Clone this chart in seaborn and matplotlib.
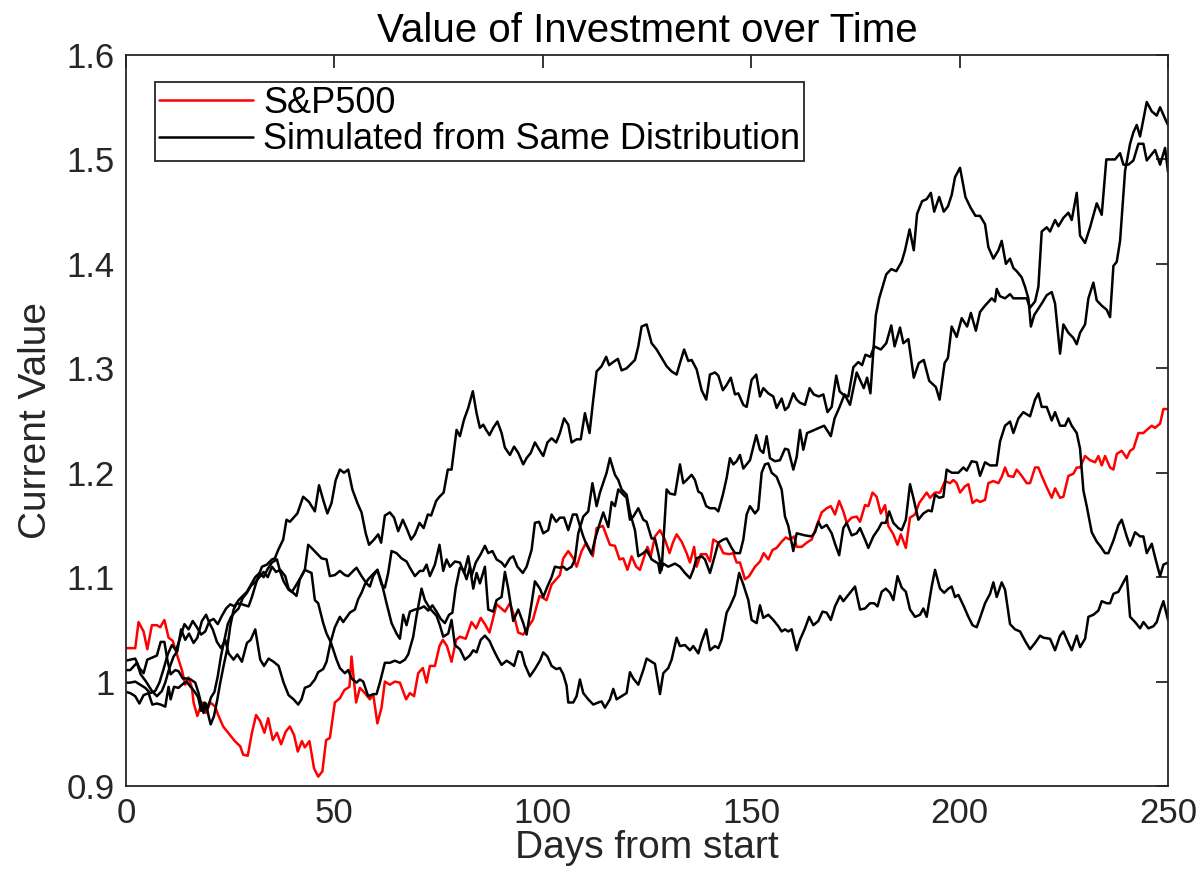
import matplotlib
matplotlib.use("Agg")
import matplotlib.pyplot as plt
import seaborn as sns
import pandas as pd
from matplotlib.lines import Line2D

# ---------------- data ----------------
sp500_days = [0, 1, 2.2, 3.0, 4.2, 5.1, 6.2, 7.4, 8.2, 9.2, 10.2, 11.2, 12.2, 13.4, 14.2, 15.0, 15.8, 16.2, 17.1, 18.2,
              19.2, 20.2, 21.4, 22.1, 23.3, 24.9, 26.1, 27.4, 28.1, 29.2, 30.2, 31.2, 32.2, 33.2, 34.1, 35.2, 36.2, 37.2,
              38.3, 39.3, 40.3, 41.2, 42.2, 42.9, 44.0, 45.1, 46.1, 47.1, 48.0, 48.9, 50.1, 51.3, 52.4, 53.6, 54.1, 55.2,
              56.1, 57.3, 58.5, 59.3, 60.3, 61.3, 62.1, 63.3, 64.5, 65.7, 67.2, 68.1, 69.1, 70.1, 71.2, 72.1, 72.9, 74.1,
              75.2, 76.0, 77.0, 78.1, 79.2, 80.1, 81.5, 82.9, 84.0, 85.1, 86.1, 87.2, 88.9, 90.9, 92.1, 93.1, 94.1, 95.3,
              96.1, 97.6, 99.2, 100.9, 102.1, 104.1, 104.9, 106.1, 107.3, 108.1, 109.3, 110.4, 112.0, 112.9, 114.4,
              116.1, 117.3, 118.4, 119.3, 120.3, 121.3, 122.4, 123.3, 124.1, 125.1, 125.9, 126.9, 128.1, 129.3, 130.4,
              131.2, 132.1, 133.3, 134.5, 135.3, 136.3, 136.9, 137.9, 139.2, 140.1, 140.9, 142.1, 143.3, 144.7, 145.7,
              146.5, 147.3, 148.5, 149.5, 150.9, 152.1, 153.0, 154.1, 155.1, 156.1, 157.3, 158.3, 159.3, 160.3, 160.9,
              162.1, 163.3, 164.5, 165.7, 166.9, 168.1, 169.1, 170.1, 171.1, 172.1, 172.9, 174.1, 175.3, 176.1, 177.3,
              178.1, 179.1, 180.1, 181.1, 182.1, 182.9, 184.1, 185.1, 185.9, 187.1, 188.1, 189.3, 190.3, 192.1, 192.9,
              194.1, 195.3, 196.5, 197.7, 198.5, 199.3, 200.1, 201.3, 202.1, 203.1, 204.1, 204.9, 206.1, 206.9, 208.1,
              209.3, 210.1, 210.9, 211.7, 212.9, 213.7, 214.9, 216.1, 216.9, 218.1, 218.9, 219.7, 220.9, 222.1, 222.9,
              224.1, 224.9, 226.1, 227.3, 228.1, 228.9, 230.1, 231.3, 232.5, 233.3, 234.1, 234.9, 236.1, 236.9, 237.7,
              238.9, 240.1, 240.9, 241.7, 242.9, 244.1, 244.9, 246.1, 246.9, 248.1, 248.9, 250]
sp500_vals = [1.032, 1.032, 1.032, 1.057, 1.048, 1.031, 1.054, 1.054, 1.052, 1.059, 1.042, 1.039, 1.026, 1.011, 0.997,
              1.004, 0.994, 0.980, 0.967, 0.980, 0.970, 0.980, 0.976, 0.968, 0.957, 0.949, 0.943, 0.938, 0.930, 0.929,
              0.951, 0.968, 0.962, 0.951, 0.965, 0.944, 0.951, 0.940, 0.952, 0.957, 0.949, 0.933, 0.943, 0.937, 0.943,
              0.917, 0.909, 0.914, 0.944, 0.946, 0.980, 0.984, 0.992, 0.995, 1.024, 0.980, 0.994, 0.989, 0.983, 0.988,
              0.960, 0.975, 1.000, 0.997, 1.000, 0.999, 0.983, 0.989, 0.986, 1.008, 1.013, 0.999, 1.015, 1.015, 1.034,
              1.040, 1.034, 1.019, 1.040, 1.043, 1.041, 1.057, 1.051, 1.061, 1.055, 1.047, 1.074, 1.067, 1.075, 1.063,
              1.047, 1.045, 1.050, 1.059, 1.082, 1.078, 1.093, 1.102, 1.118, 1.125, 1.118, 1.110, 1.125, 1.133, 1.120,
              1.147, 1.149, 1.131, 1.130, 1.117, 1.118, 1.107, 1.120, 1.110, 1.107, 1.117, 1.129, 1.120, 1.139, 1.145,
              1.136, 1.123, 1.133, 1.141, 1.134, 1.123, 1.114, 1.129, 1.110, 1.122, 1.122, 1.115, 1.136, 1.133, 1.123,
              1.122, 1.123, 1.114, 1.114, 1.098, 1.101, 1.110, 1.115, 1.123, 1.117, 1.126, 1.128, 1.134, 1.138, 1.136,
              1.139, 1.129, 1.129, 1.133, 1.136, 1.149, 1.162, 1.166, 1.168, 1.160, 1.173, 1.163, 1.152, 1.157, 1.158,
              1.153, 1.169, 1.168, 1.181, 1.177, 1.161, 1.169, 1.149, 1.141, 1.131, 1.141, 1.128, 1.157, 1.160, 1.171,
              1.181, 1.176, 1.181, 1.181, 1.192, 1.190, 1.193, 1.190, 1.181, 1.187, 1.189, 1.171, 1.174, 1.172, 1.174,
              1.190, 1.192, 1.190, 1.196, 1.205, 1.197, 1.196, 1.203, 1.197, 1.190, 1.190, 1.205, 1.205, 1.197, 1.186,
              1.176, 1.185, 1.176, 1.177, 1.197, 1.199, 1.205, 1.205, 1.216, 1.212, 1.210, 1.216, 1.207, 1.216, 1.205,
              1.203, 1.218, 1.221, 1.214, 1.221, 1.223, 1.238, 1.238, 1.241, 1.245, 1.243, 1.247, 1.261, 1.261]

sim1_days = [0, 1.0, 2.2, 3.2, 4.2, 5.1, 6.3, 7.4, 8.3, 9.2, 9.9, 10.7, 11.8, 12.6, 13.6, 14.6, 15.5, 16.6, 17.4, 18.2,
             18.6, 19.2, 19.8, 20.3, 21.1, 21.9, 22.6, 23.4, 24.2, 25.0, 25.8, 26.6, 27.8, 29.4, 30.2, 31.4, 32.6, 33.8,
             35.0, 35.7, 36.5, 37.7, 38.5, 39.3, 41.1, 42.5, 43.9, 45.3, 46.3, 47.3, 48.3, 49.3, 50.3, 51.3, 52.3, 53.3,
             54.3, 55.5, 56.5, 57.5, 58.3, 59.5, 60.5, 61.2, 62.1, 63.3, 64.3, 65.3, 66.4, 67.4, 68.4, 69.3, 70.4, 71.4,
             72.4, 73.2, 74.4, 75.2, 76.2, 77.2, 78.1, 79.3, 80.1, 81.1, 82.1, 83.2, 84.1, 84.9, 85.7, 86.4, 87.2, 88.1,
             89.1, 90.1, 90.9, 92.1, 93.1, 94.1, 95.3, 96.1, 97.1, 98.1, 99.3, 100.1, 101.1, 102.1, 103.2, 104.1, 105.1,
             106.1, 106.9, 108.1, 109.1, 110.1, 111.2, 112.1, 112.9, 114.1, 115.2, 115.9, 116.9, 118.0, 118.9, 120.1,
             122.1, 122.9, 123.7, 124.9, 126.1, 127.3, 128.5, 129.7, 130.9, 132.1, 132.9, 133.9, 134.9, 135.7, 136.9,
             138.1, 139.2, 140.1, 141.3, 142.1, 143.2, 144.1, 145.1, 146.1, 146.9, 148.1, 148.9, 150.1, 151.2, 152.1,
             152.9, 154.1, 155.3, 156.1, 157.3, 158.1, 158.9, 160.1, 160.9, 161.7, 162.9, 164.0, 165.0, 166.2, 167.3,
             168.3, 169.3, 170.4, 171.2, 172.0, 173.3, 174.5, 175.7, 176.6, 177.4, 178.6, 179.5, 181.1, 182.4, 183.6,
             184.4, 185.7, 186.5, 187.7, 189.0, 190.2, 191.4, 192.7, 194.3, 195.2, 196.4, 197.2, 198.1, 199.3, 200.5,
             201.8, 202.7, 203.9, 204.9, 206.1, 207.7, 208.5, 208.9, 209.7, 210.9, 212.1, 212.9, 214.5, 216.1, 216.9,
             218.1, 218.9, 219.7, 220.9, 221.7, 222.9, 223.7, 224.9, 226.1, 226.9, 228.1, 228.9, 230.1, 231.3, 232.9,
             234.1, 235.2, 237.3, 238.5, 239.3, 240.5, 241.7, 242.9, 244.1, 244.9, 246.9, 248.1, 249.3, 250]
sim1_vals = [1.020, 1.021, 1.022, 1.013, 1.008, 1.021, 1.023, 1.025, 1.038, 1.038, 1.021, 1.007, 1.011, 1.010, 1.003,
             1.003, 1.002, 0.999, 0.989, 0.976, 0.970, 0.979, 0.967, 0.959, 0.967, 0.983, 0.999, 1.015, 1.030, 1.053,
             1.069, 1.075, 1.074, 1.072, 1.081, 1.097, 1.110, 1.112, 1.117, 1.118, 1.126, 1.136, 1.155, 1.153, 1.161,
             1.177, 1.172, 1.163, 1.188, 1.174, 1.161, 1.171, 1.193, 1.203, 1.200, 1.203, 1.184, 1.171, 1.162, 1.142,
             1.131, 1.136, 1.141, 1.133, 1.159, 1.162, 1.157, 1.144, 1.155, 1.146, 1.136, 1.141, 1.152, 1.147, 1.160,
             1.159, 1.173, 1.177, 1.181, 1.203, 1.203, 1.241, 1.235, 1.251, 1.262, 1.278, 1.257, 1.243, 1.246, 1.241,
             1.236, 1.243, 1.249, 1.238, 1.224, 1.217, 1.225, 1.219, 1.208, 1.214, 1.219, 1.229, 1.221, 1.216, 1.229,
             1.233, 1.229, 1.238, 1.252, 1.246, 1.229, 1.232, 1.232, 1.257, 1.238, 1.270, 1.297, 1.302, 1.311, 1.303,
             1.306, 1.309, 1.298, 1.300, 1.308, 1.321, 1.340, 1.342, 1.324, 1.318, 1.310, 1.302, 1.297, 1.294, 1.305,
             1.318, 1.307, 1.308, 1.299, 1.279, 1.270, 1.294, 1.296, 1.293, 1.279, 1.284, 1.291, 1.275, 1.276, 1.265,
             1.263, 1.289, 1.294, 1.273, 1.281, 1.276, 1.273, 1.262, 1.271, 1.260, 1.263, 1.276, 1.270, 1.267, 1.265,
             1.281, 1.275, 1.273, 1.275, 1.258, 1.263, 1.293, 1.278, 1.275, 1.273, 1.301, 1.306, 1.303, 1.313, 1.311,
             1.321, 1.318, 1.324, 1.341, 1.321, 1.339, 1.324, 1.328, 1.291, 1.305, 1.308, 1.288, 1.282, 1.270, 1.305,
             1.310, 1.340, 1.330, 1.348, 1.340, 1.353, 1.336, 1.354, 1.360, 1.367, 1.364, 1.376, 1.369, 1.367, 1.371,
             1.367, 1.367, 1.367, 1.358, 1.364, 1.378, 1.431, 1.435, 1.431, 1.442, 1.436, 1.444, 1.449, 1.442, 1.468,
             1.427, 1.420, 1.435, 1.458, 1.447, 1.500, 1.500, 1.506, 1.495, 1.495, 1.499, 1.515, 1.515, 1.499, 1.509,
             1.495, 1.511, 1.488]

sim2_days = [0, 1, 2.2, 3.4, 4.6, 5.8, 7.0, 8.0, 9.0, 10.0, 11.0, 12.0, 13.0, 14.0, 15.0, 16.0, 17.0, 18.0, 19.0, 20.0,
             21.0, 22.0, 23.0, 24.0, 25.0, 26.0, 27.0, 28.0, 29.0, 30.0, 31.0, 32.0, 33.0, 34.0, 35.0, 36.2, 37.0, 37.8,
             39.0, 40.1, 40.9, 41.7, 42.9, 43.7, 44.5, 45.7, 46.9, 48.1, 48.9, 50.1, 51.3, 52.5, 53.3, 54.5, 55.3, 56.5,
             57.7, 58.5, 59.3, 60.3, 61.3, 62.1, 62.9, 63.7, 64.9, 66.1, 67.3, 68.1, 69.3, 70.5, 71.3, 72.1, 72.9, 74.1,
             75.2, 76.1, 76.9, 77.7, 78.9, 80.1, 81.1, 82.1, 82.9, 83.9, 85.1, 86.1, 86.9, 87.9, 88.9, 90.1, 90.9, 92.1,
             92.9, 93.9, 95.2, 96.1, 97.3, 98.1, 99.1, 100.1, 101.3, 102.1, 103.2, 104.1, 105.1, 106.1, 107.2, 108.1,
             108.9, 109.7, 110.5, 111.7, 112.5, 113.7, 114.5, 115.7, 116.5, 117.3, 118.1, 119.3, 120.1, 120.9, 121.7,
             122.9, 124.1, 124.9, 126.1, 126.9, 127.7, 128.5, 129.7, 130.5, 131.7, 132.9, 133.7, 134.5, 135.7, 136.5,
             137.3, 138.1, 139.2, 140.1, 141.3, 142.1, 143.2, 144.1, 144.9, 145.7, 146.5, 147.3, 148.1, 148.9, 149.7,
             151.2, 152.1, 152.9, 153.7, 154.5, 155.7, 156.9, 158.1, 158.9, 160.1, 160.9, 161.7, 162.5, 163.4, 164.6,
             166.3, 167.5, 169.1, 170.0, 171.2, 172.4, 173.7, 175.3, 177.0, 177.8, 178.6, 179.9, 180.7, 182.4, 183.6,
             184.8, 186.1, 186.9, 188.0, 189.0, 189.8, 191.0, 192.1, 193.1, 193.9, 195.1, 196.2, 197.2, 198.1, 198.9,
             200.1, 201.4, 202.6, 203.8, 204.9, 206.1, 206.9, 208.1, 209.3, 210.1, 211.1, 212.1, 212.9, 213.7, 214.9,
             215.7, 216.5, 217.1, 217.9, 219.7, 220.9, 222.1, 222.9, 224.1, 224.9, 226.1, 227.3, 228.1, 228.9, 230.1,
             230.9, 232.1, 232.9, 234.1, 235.3, 236.1, 236.9, 237.7, 238.5, 239.7, 240.9, 241.7, 242.5, 243.3, 244.9,
             246.1, 247.3, 248.1, 249.3, 250]
sim2_vals = [0.999, 0.999, 1.000, 0.997, 0.994, 0.989, 0.991, 0.999, 1.012, 1.026, 1.035, 1.030, 1.042, 1.055, 1.050,
             1.058, 1.052, 1.045, 1.048, 1.058, 1.060, 1.055, 1.063, 1.070, 1.074, 1.072, 1.078, 1.082, 1.086, 1.093,
             1.100, 1.104, 1.100, 1.108, 1.114, 1.117, 1.105, 1.096, 1.088, 1.085, 1.082, 1.098, 1.107, 1.131, 1.128,
             1.123, 1.118, 1.117, 1.101, 1.102, 1.106, 1.102, 1.101, 1.106, 1.109, 1.101, 1.094, 1.091, 1.101, 1.107,
             1.093, 1.090, 1.104, 1.125, 1.123, 1.118, 1.115, 1.109, 1.101, 1.106, 1.106, 1.112, 1.101, 1.112, 1.131,
             1.106, 1.117, 1.110, 1.115, 1.114, 1.104, 1.120, 1.101, 1.114, 1.122, 1.130, 1.123, 1.125, 1.117, 1.114,
             1.110, 1.118, 1.120, 1.110, 1.104, 1.110, 1.126, 1.152, 1.153, 1.142, 1.145, 1.160, 1.153, 1.157, 1.157,
             1.145, 1.160, 1.160, 1.149, 1.139, 1.131, 1.122, 1.136, 1.152, 1.162, 1.148, 1.172, 1.168, 1.184, 1.179,
             1.176, 1.155, 1.158, 1.166, 1.155, 1.153, 1.137, 1.137, 1.123, 1.107, 1.184, 1.180, 1.179, 1.208, 1.190,
             1.193, 1.198, 1.193, 1.182, 1.180, 1.168, 1.166, 1.166, 1.163, 1.179, 1.195, 1.214, 1.208, 1.211, 1.217,
             1.204, 1.208, 1.212, 1.236, 1.222, 1.219, 1.235, 1.214, 1.211, 1.212, 1.223, 1.222, 1.203, 1.215, 1.241,
             1.222, 1.238, 1.240, 1.243, 1.245, 1.235, 1.252, 1.263, 1.275, 1.265, 1.296, 1.281, 1.291, 1.276, 1.351,
             1.367, 1.390, 1.395, 1.393, 1.402, 1.413, 1.433, 1.413, 1.448, 1.460, 1.462, 1.468, 1.450, 1.464, 1.450,
             1.455, 1.466, 1.483, 1.492, 1.464, 1.454, 1.446, 1.446, 1.438, 1.416, 1.405, 1.413, 1.422, 1.400, 1.405,
             1.396, 1.393, 1.387, 1.378, 1.367, 1.340, 1.351, 1.362, 1.370, 1.373, 1.362, 1.314, 1.342, 1.334, 1.329,
             1.323, 1.334, 1.342, 1.367, 1.382, 1.365, 1.360, 1.356, 1.349, 1.398, 1.402, 1.422, 1.489, 1.515, 1.526,
             1.533, 1.522, 1.555, 1.546, 1.542, 1.550, 1.539, 1.533]

sim3_days = [0, 1.0, 2.6, 3.5, 4.8, 6.2, 7.4, 8.6, 9.4, 10.4, 11.4, 12.3, 13.2, 14.2, 15.1, 16.2, 17.1, 18.2, 19.2,
             20.0, 20.8, 21.8, 22.8, 23.8, 24.6, 25.8, 26.7, 27.8, 29.0, 29.9, 31.0, 32.2, 33.1, 34.2, 35.4, 36.6, 37.8,
             39.0, 40.2, 41.3, 42.1, 42.9, 44.1, 45.3, 46.1, 47.3, 48.1, 49.1, 50.1, 51.3, 52.1, 53.7, 54.9, 55.7, 56.5,
             57.3, 58.1, 59.3, 60.3, 61.3, 62.5, 63.7, 64.9, 65.7, 66.5, 67.3, 68.1, 69.3, 70.5, 71.5, 72.5, 73.5, 74.5,
             75.5, 76.5, 77.5, 78.3, 79.1, 80.1, 80.9, 81.7, 82.5, 83.3, 84.1, 84.9, 86.1, 86.9, 88.1, 88.9, 90.1, 90.9,
             91.7, 92.9, 94.1, 95.3, 96.1, 97.3, 98.1, 99.3, 100.1, 101.1, 102.1, 102.9, 104.1, 104.9, 105.7, 106.9,
             107.7, 108.5, 109.7, 110.9, 111.9, 112.9, 113.7, 115.3, 116.1, 117.3, 118.1, 118.9, 120.1, 120.9, 122.1,
             122.9, 124.1, 124.9, 126.1, 126.9, 127.7, 128.1, 128.9, 130.1, 131.7, 132.9, 134.1, 135.3, 136.1, 136.9,
             138.1, 138.9, 140.1, 141.3, 142.1, 143.3, 144.1, 145.3, 146.1, 147.3, 148.1, 148.9, 149.7, 150.9, 151.7,
             152.5, 153.3, 154.1, 154.9, 156.1, 157.3, 158.1, 158.9, 160.1, 160.9, 162.9, 164.5, 165.3, 166.1, 166.9,
             168.1, 169.3, 170.1, 171.1, 172.1, 172.9, 174.1, 175.3, 176.1, 177.3, 178.1, 179.3, 180.5, 181.3, 182.3,
             183.1, 184.1, 185.3, 186.1, 187.1, 188.1, 188.9, 190.1, 191.3, 192.5, 193.3, 194.1, 195.1, 196.1, 196.9,
             198.1, 199.7, 200.9, 201.7, 202.9, 204.1, 204.9, 206.1, 207.3, 208.9, 209.7, 210.9, 212.1, 212.9, 214.1,
             215.3, 216.9, 218.1, 218.9, 219.7, 220.9, 222.1, 222.9, 224.1, 225.3, 226.1, 226.9, 228.1, 228.9, 229.7,
             230.5, 231.7, 232.9, 233.7, 234.9, 235.7, 236.9, 238.1, 238.9, 240.1, 240.9, 242.1, 243.3, 244.1, 244.9,
             246.1, 246.9, 248.1, 248.9, 250]
sim3_vals = [1.011, 1.011, 1.018, 1.007, 1.000, 0.991, 0.986, 0.991, 0.999, 1.013, 1.024, 1.029, 1.050, 1.040, 1.046,
             1.037, 1.042, 1.058, 1.064, 1.056, 1.050, 1.038, 1.032, 1.040, 1.027, 1.021, 1.026, 1.019, 1.037, 1.040,
             1.050, 1.021, 1.015, 1.022, 1.019, 1.015, 0.999, 0.987, 0.983, 0.978, 0.983, 0.994, 0.996, 1.002, 1.009,
             1.012, 1.019, 1.038, 1.052, 1.062, 1.057, 1.066, 1.069, 1.079, 1.085, 1.093, 1.098, 1.103, 1.107, 1.095,
             1.075, 1.056, 1.046, 1.041, 1.064, 1.054, 1.067, 1.069, 1.070, 1.072, 1.068, 1.073, 1.067, 1.060, 1.056,
             1.064, 1.066, 1.090, 1.109, 1.107, 1.098, 1.110, 1.089, 1.104, 1.094, 1.110, 1.069, 1.067, 1.078, 1.081,
             1.105, 1.089, 1.058, 1.069, 1.056, 1.045, 1.075, 1.096, 1.089, 1.081, 1.091, 1.100, 1.110, 1.109, 1.110,
             1.107, 1.110, 1.117, 1.142, 1.158, 1.163, 1.190, 1.168, 1.181, 1.200, 1.214, 1.198, 1.193, 1.184, 1.179,
             1.162, 1.145, 1.120, 1.123, 1.126, 1.117, 1.115, 1.113, 1.104, 1.113, 1.110, 1.113, 1.110, 1.104, 1.099,
             1.107, 1.118, 1.120, 1.117, 1.104, 1.121, 1.133, 1.136, 1.137, 1.128, 1.123, 1.123, 1.136, 1.160, 1.168,
             1.161, 1.165, 1.200, 1.208, 1.209, 1.200, 1.196, 1.184, 1.158, 1.149, 1.125, 1.142, 1.140, 1.139, 1.143,
             1.153, 1.147, 1.150, 1.142, 1.132, 1.121, 1.147, 1.152, 1.140, 1.142, 1.147, 1.136, 1.128, 1.139, 1.146,
             1.152, 1.152, 1.163, 1.152, 1.147, 1.145, 1.155, 1.189, 1.176, 1.155, 1.161, 1.164, 1.163, 1.179, 1.176,
             1.177, 1.203, 1.200, 1.200, 1.205, 1.202, 1.211, 1.210, 1.197, 1.210, 1.207, 1.207, 1.230, 1.245, 1.249,
             1.238, 1.252, 1.258, 1.254, 1.270, 1.276, 1.263, 1.263, 1.250, 1.258, 1.245, 1.245, 1.252, 1.245, 1.238,
             1.223, 1.183, 1.168, 1.143, 1.134, 1.130, 1.123, 1.123, 1.135, 1.150, 1.155, 1.139, 1.130, 1.143, 1.139,
             1.139, 1.123, 1.132, 1.119, 1.101, 1.112, 1.114]

sim4_days = [0, 1.0, 2.2, 3.2, 4.2, 5.4, 6.3, 7.4, 8.3, 9.4, 10.2, 10.7, 11.5, 12.6, 13.4, 14.5, 15.5, 16.5, 17.3, 18.0,
             18.8, 19.6, 20.4, 21.2, 22.0, 22.8, 23.6, 24.4, 25.2, 26.0, 27.0, 28.0, 29.0, 30.0, 31.0, 32.0, 33.0, 34.0,
             35.0, 36.0, 37.0, 38.2, 39.0, 39.8, 40.6, 41.8, 42.9, 44.5, 45.3, 46.1, 47.3, 48.1, 49.1, 50.5, 51.3, 52.5,
             53.3, 54.1, 55.3, 56.1, 56.9, 58.1, 59.3, 60.1, 60.9, 62.1, 63.3, 64.5, 65.7, 66.9, 67.7, 68.9, 69.7, 70.9,
             71.7, 72.9, 74.5, 75.3, 76.1, 77.3, 78.1, 78.9, 80.1, 81.3, 82.5, 83.3, 84.1, 85.1, 86.1, 87.2, 88.1, 89.1,
             90.1, 91.3, 92.1, 93.1, 94.1, 94.9, 95.7, 96.9, 98.1, 99.3, 100.1, 101.1, 102.1, 103.2, 104.1, 104.9, 105.7,
             106.1, 107.3, 108.1, 108.9, 109.7, 110.9, 112.1, 113.3, 114.1, 114.9, 116.1, 116.9, 117.7, 118.9, 120.1,
             120.9, 121.7, 122.9, 124.1, 124.9, 126.1, 126.9, 128.1, 128.9, 130.1, 130.9, 132.1, 132.9, 134.1, 135.3,
             136.1, 137.3, 138.1, 139.2, 140.1, 141.3, 142.1, 142.9, 144.1, 144.9, 146.1, 147.1, 148.1, 149.3, 150.1,
             151.3, 152.1, 152.9, 154.1, 155.3, 156.5, 157.3, 158.1, 158.9, 159.7, 160.9, 161.7, 162.9, 163.9, 164.9,
             166.1, 167.1, 168.1, 169.1, 170.1, 171.3, 172.1, 173.3, 174.9, 176.1, 177.3, 178.5, 179.5, 180.3, 181.3,
             182.3, 183.3, 184.1, 185.1, 186.1, 187.1, 188.1, 189.3, 190.5, 191.3, 192.1, 193.3, 194.1, 195.3, 196.3,
             197.3, 198.1, 198.9, 199.7, 200.9, 202.1, 203.1, 204.1, 204.9, 206.1, 207.3, 208.1, 208.9, 210.1, 210.9,
             212.1, 213.3, 214.5, 215.7, 216.9, 218.1, 219.3, 220.1, 221.7, 222.9, 224.1, 224.9, 226.1, 226.9, 228.1,
             228.9, 230.1, 230.9, 232.1, 233.3, 234.1, 235.3, 236.1, 236.9, 238.1, 239.3, 240.1, 240.9, 242.1, 243.3,
             244.1, 245.3, 246.5, 247.3, 248.1, 248.9, 250]
sim4_vals = [0.990, 0.989, 0.986, 0.979, 0.987, 0.989, 0.978, 0.979, 0.978, 0.976, 0.995, 0.983, 0.995, 0.994, 0.997,
             1.000, 0.995, 0.990, 0.985, 0.972, 0.980, 0.975, 0.985, 0.990, 1.005, 1.025, 1.040, 1.055, 1.062, 1.066,
             1.070, 1.080, 1.085, 1.092, 1.095, 1.100, 1.105, 1.100, 1.110, 1.105, 1.107, 1.101, 1.089, 1.086, 1.091,
             1.099, 1.107, 1.104, 1.078, 1.075, 1.056, 1.046, 1.038, 1.021, 1.013, 1.008, 1.011, 1.003, 0.999, 1.002,
             1.000, 0.986, 0.988, 0.988, 0.999, 1.018, 1.018, 1.020, 1.018, 1.021, 1.026, 1.043, 1.063, 1.089, 1.078,
             1.070, 1.063, 1.054, 1.043, 1.046, 1.059, 1.035, 1.031, 1.021, 1.025, 1.030, 1.028, 1.040, 1.044, 1.039,
             1.031, 1.023, 1.016, 1.020, 1.018, 1.015, 1.029, 1.028, 1.016, 1.005, 1.012, 1.020, 1.028, 1.024, 1.015,
             1.012, 1.013, 1.007, 0.996, 0.980, 0.980, 0.986, 1.002, 0.989, 0.983, 0.978, 0.980, 0.981, 0.975, 0.983,
             0.993, 0.983, 0.986, 0.989, 1.009, 1.003, 0.997, 1.011, 1.022, 1.019, 1.017, 0.988, 1.008, 1.013, 1.021,
             1.042, 1.034, 1.035, 1.030, 1.034, 1.027, 1.038, 1.050, 1.030, 1.034, 1.032, 1.040, 1.066, 1.072, 1.083,
             1.104, 1.093, 1.078, 1.059, 1.056, 1.073, 1.061, 1.064, 1.059, 1.053, 1.048, 1.050, 1.048, 1.050, 1.030,
             1.040, 1.051, 1.062, 1.054, 1.058, 1.067, 1.066, 1.059, 1.072, 1.082, 1.077, 1.083, 1.091, 1.069, 1.070,
             1.075, 1.075, 1.072, 1.086, 1.089, 1.085, 1.078, 1.101, 1.090, 1.086, 1.069, 1.062, 1.064, 1.070, 1.062,
             1.091, 1.107, 1.089, 1.085, 1.089, 1.091, 1.081, 1.083, 1.073, 1.062, 1.054, 1.052, 1.061, 1.075, 1.084,
             1.095, 1.081, 1.095, 1.088, 1.055, 1.050, 1.048, 1.039, 1.031, 1.037, 1.044, 1.042, 1.041, 1.030, 1.044,
             1.048, 1.037, 1.030, 1.044, 1.033, 1.041, 1.062, 1.064, 1.068, 1.077, 1.075, 1.075, 1.084, 1.086, 1.095,
             1.101, 1.062, 1.057, 1.051, 1.057, 1.051, 1.053, 1.057, 1.068, 1.077, 1.059]

x_ticks = [0, 50, 100, 150, 200, 250]
y_ticks = [0.9, 1.0, 1.1, 1.2, 1.3, 1.4, 1.5, 1.6]
y_tick_labels = ["0.9", "1", "1.1", "1.2", "1.3", "1.4", "1.5", "1.6"]
legend_labels = ["S&P500", "Simulated from Same Distribution"]
title_text = "Value of Investment over Time"
x_label = "Days from start"
y_label = "Current Value"

# ---------------- style ----------------
sns.set_style("white")
plt.rcParams["font.family"] = ["Liberation Sans", "DejaVu Sans"]
axis_grey = "#262626"
line_w = 1.8

fig = plt.figure(figsize=(12.04, 8.8), dpi=100)
ax = fig.add_axes([0.1047, 0.1068, 0.8654, 0.8307])

red_df = pd.DataFrame({"day": sp500_days, "value": sp500_vals})
sns.lineplot(data=red_df, x="day", y="value", ax=ax, color="#ff0000", linewidth=line_w,
             estimator=None, legend=False)

sims = [(sim1_days, sim1_vals), (sim2_days, sim2_vals), (sim3_days, sim3_vals), (sim4_days, sim4_vals)]
for d, v in sims:
    df = pd.DataFrame({"day": d, "value": v})
    sns.lineplot(data=df, x="day", y="value", ax=ax, color="black", linewidth=line_w,
                 estimator=None, legend=False)

ax.set_xlim(0, 250)
ax.set_ylim(0.9, 1.6)
ax.set_xticks(x_ticks)
ax.set_xticklabels([str(t) for t in x_ticks])
ax.set_yticks(y_ticks)
ax.set_yticklabels(y_tick_labels)

for sp in ax.spines.values():
    sp.set_visible(True)
    sp.set_color(axis_grey)
    sp.set_linewidth(1.3)

ax.tick_params(axis="both", which="major", direction="in", length=9, width=1.3,
               top=True, right=True, labelsize=25, colors=axis_grey, labelcolor=axis_grey, pad=8)

ax.set_title(title_text, fontsize=29, color="black", pad=9)
ax.set_xlabel(x_label, fontsize=28, color=axis_grey, labelpad=0)
ax.set_ylabel(y_label, fontsize=28, color=axis_grey, labelpad=9)

handles = [Line2D([0], [0], color="#ff0000", linewidth=line_w),
           Line2D([0], [0], color="black", linewidth=line_w)]
leg = ax.legend(handles, legend_labels, loc="upper left", bbox_to_anchor=(0.0278, 0.963),
                borderaxespad=0, fontsize=26, handlelength=2.6, handletextpad=0.3,
                borderpad=0.1, labelspacing=0.05, frameon=True, fancybox=False,
                framealpha=1, edgecolor=axis_grey, prop={"size": 26})
for t in leg.get_texts():
    t.set_color("black")
leg.get_frame().set_linewidth(1.3)

fig.savefig("out.png", dpi=100)
